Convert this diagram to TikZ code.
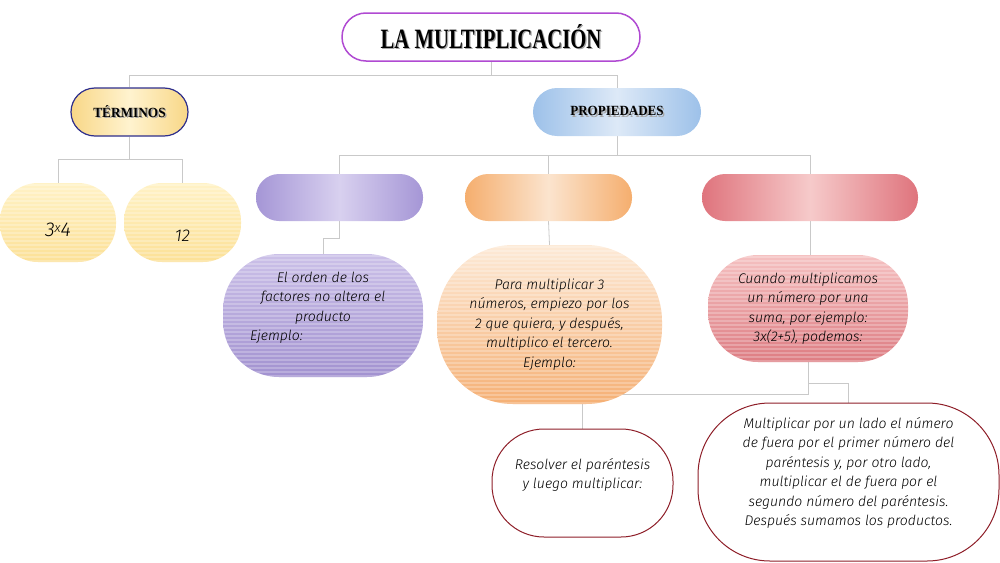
\documentclass[tikz,border=0pt]{standalone}
\usepackage{fontspec}
\setmainfont{Liberation Serif}
\newfontfamily\hand{Fira Sans}[UprightFont=* Light Italic]
\usetikzlibrary{backgrounds}
\definecolor{conncol}{HTML}{C9C9C9}
\definecolor{titleborder}{HTML}{B04AD2}
\definecolor{termborder}{HTML}{2E2E8C}
\definecolor{boxborder}{HTML}{8E1E28}
\definecolor{yelEdge}{HTML}{F8D787}
\definecolor{yelMid}{HTML}{FFF3CF}
\definecolor{yelTop}{HTML}{FFF2C6}
\definecolor{yelBot}{HTML}{FCE096}
\definecolor{bluEdge}{HTML}{9DC1E9}
\definecolor{bluMid}{HTML}{DDE9F7}
\definecolor{purEdge}{HTML}{A596D6}
\definecolor{purMid}{HTML}{D8D0EF}
\definecolor{oraEdge}{HTML}{F5AE6E}
\definecolor{oraMid}{HTML}{FBE4CE}
\definecolor{redEdge}{HTML}{DF747D}
\definecolor{redMid}{HTML}{F6CACA}
\definecolor{purTop}{HTML}{CBC0E8}
\definecolor{purBot}{HTML}{A292D0}
\definecolor{oraTop}{HTML}{FDEAD7}
\definecolor{oraBot}{HTML}{F5B075}
\definecolor{redTop}{HTML}{F5C1C1}
\definecolor{redBot}{HTML}{DD7C82}
\newcommand{\shadowtxt}[1]{\makebox[0pt][l]{\raisebox{-1.6pt}{\hspace{1.6pt}\textcolor{black!35}{#1}}}#1}
\newcommand{\shifted}[2]{\raisebox{#1}[0pt][0pt]{\begin{tabular}{@{}c@{}}#2\end{tabular}}}
\tikzset{
  conn/.style={draw=conncol, line width=0.8pt},
  pill/.style={rectangle, inner sep=0pt, align=center},
  stripes/.style={path picture={\foreach \k in {1,5,...,200}{\draw[white,opacity=0.24,line width=1.6pt] ([yshift=\k pt]path picture bounding box.south west) -- ([yshift=\k pt]path picture bounding box.south east);}}},
  handtxt/.style={font=\hand\fontsize{14}{19.5}\selectfont, text=black},
  headtxt/.style={font=\bfseries\fontsize{14}{14}\selectfont},
  bar/.style={pill, minimum height=47pt, rounded corners=23pt},
  outbox/.style={pill, draw=boxborder, line width=1pt, fill=white, handtxt},
}
\begin{document}
\begin{tikzpicture}[x=1pt,y=-1pt]
\useasboundingbox (0,0) rectangle (1000,562);
% title
\node[pill, minimum width=298pt, minimum height=48pt, rounded corners=24pt, draw=titleborder, line width=1.5pt, fill=white,
  font=\bfseries\fontsize{28}{28}\selectfont] (title) at (491,37)
  {\scalebox{0.74}[1]{\shadowtxt{LA MULTIPLICACIÓN}}};
% level 1
\node[pill, minimum width=117pt, minimum height=48pt, rounded corners=24pt, draw=termborder, line width=1.2pt,
  left color=yelEdge, right color=yelEdge, middle color=yelMid, headtxt] (term) at (129.5,112)
  {\scalebox{0.95}[1]{\shadowtxt{TÉRMINOS}}};
\node[bar, minimum width=168pt, minimum height=48pt, rounded corners=24pt,
  left color=bluEdge, right color=bluEdge, middle color=bluMid, headtxt] (prop) at (617,112)
  {\scalebox{0.93}[1]{\shadowtxt{PROPIEDADES}}};
% terms
\node[pill, minimum width=116pt, minimum height=79pt, rounded corners=38pt, top color=yelTop, bottom color=yelBot, stripes,
  handtxt, font=\hand\fontsize{20}{20}\selectfont] (t1) at (58,222.5)
  {\raisebox{-14pt}[0pt][0pt]{3\raisebox{4pt}{\fontsize{13}{13}\selectfont x}4}};
\node[pill, minimum width=117pt, minimum height=79pt, rounded corners=38pt, top color=yelTop, bottom color=yelBot, stripes,
  handtxt, font=\hand\fontsize{17}{17}\selectfont] (t2) at (182.5,222.5) {\raisebox{-19pt}[0pt][0pt]{12}};
% bars
\node[bar, minimum width=167pt, left color=purEdge, right color=purEdge, middle color=purMid] (pb) at (339.5,197.5) {};
\node[bar, minimum width=167pt, left color=oraEdge, right color=oraEdge, middle color=oraMid] (ob) at (548.5,197.5) {};
\node[bar, minimum width=216pt, left color=redEdge, right color=redEdge, middle color=redMid] (rb) at (810,197.5) {};
% property texts
\node[pill, minimum width=200pt, minimum height=123pt, rounded corners=56pt, top color=purTop, bottom color=purBot, stripes, handtxt]
  (pt) at (323,315.5) {\shifted{4.5pt}{El orden de los\\factores no altera el\\producto\\\makebox[146pt][l]{Ejemplo:}}};
\node[pill, minimum width=225pt, minimum height=159pt, rounded corners=76pt, top color=oraTop, bottom color=oraBot, stripes, handtxt]
  (ot) at (549.5,324.5) {Para multiplicar 3\\números, empiezo por los\\2 que quiera, y después,\\multiplico el tercero.\\Ejemplo:};
\node[pill, minimum width=200pt, minimum height=107pt, rounded corners=50pt, top color=redTop, bottom color=redBot, stripes, handtxt]
  (rt) at (808,308.5) {Cuando multiplicamos\\un número por una\\suma, por ejemplo:\\3x(2+5), podemos:};
% bottom boxes
\node[outbox, minimum width=181pt, minimum height=108pt, rounded corners=52pt] (b1) at (582.5,483)
  {\shifted{4.5pt}{Resolver el paréntesis\\y luego multiplicar:}};
\node[outbox, minimum width=301pt, minimum height=158pt, rounded corners=72pt] (b2) at (848.5,482)
  {\shifted{5.5pt}{Multiplicar por un lado el número\\de fuera por el primer número del\\paréntesis y, por otro lado,\\multiplicar el de fuera por el\\segundo número del paréntesis.\\Después sumamos los productos.}};
% connectors
\begin{pgfonlayer}{background}
\draw[conn] (title.south) -- (491,75.5) -| (term.north);
\draw[conn] (491,75.5) -| (prop.north);
\draw[conn] (term.south) -- (129.5,159) -| (t1.north);
\draw[conn] (129.5,159) -| (t2.north);
\draw[conn] (prop.south) -- (617,155) -| (pb.north);
\draw[conn] (617,155) -| (ob.north);
\draw[conn] (617,155) -| (rb.north);
\draw[conn] (pb.south) -- (339.5,238) -| (pt.north);
\draw[conn] (ob.south) -- (ot.north);
\draw[conn] (rb.south) -- (rb.south |- rt.north);
\draw[conn] (rt.south) -- (808,383) -| (b2.north);
\draw[conn] (808,383) -- (808,394) -| (b1.north);
\end{pgfonlayer}
\end{tikzpicture}
\end{document}
